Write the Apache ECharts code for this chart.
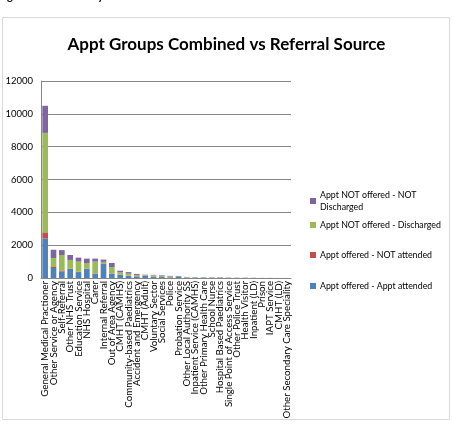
<!DOCTYPE html>
<html>
<head>
<meta charset="utf-8">
<style>
  html, body { margin: 0; padding: 0; background: #fff; }
  #chart { width: 453px; height: 424px; }
</style>
<script src="https://cdn.jsdelivr.net/npm/echarts@6/dist/echarts.min.js"></script>
</head>
<body>
<div id="chart"></div>
<script>
  // referral sources, largest first
  var categories = [
    'General Medical Practioner', 'Other Service or Agency', 'Self-Referral', 'Other NHS Trust',
    'Education Service', 'NHS Hospital', 'Carer', 'Internal Referral', 'Out of Area Agency',
    'CMHT (CAMHS)', 'Community-based Paediatrics', 'Accident and Emergency', 'CMHT (Adult)',
    'Voluntary Sector', 'Social Services', 'Police', 'Probation Service', 'Other Local Authority SS',
    'Inpatient Service (CAMHS)', 'Other Primary Health Care', 'School Nurse',
    'Hospital Based Paediatrics', 'Single Point of Access Service', 'Other Police Trust',
    'Health Visitor', 'Inpatient (LD)', 'Prison', 'IAPT Service', 'CMHT (LD)',
    'Other Secondary Care Speciality'
  ];
  var attended     = [2400, 610, 400, 550, 360, 550, 245, 880, 260, 200, 120, 90, 150, 80, 60, 40, 100, 25, 20, 20, 20, 20, 10, 8, 8, 5, 4, 4, 2, 2];
  var notAttended  = [380, 60, 60, 30, 20, 20, 30, 20, 20, 15, 20, 15, 5, 10, 10, 5, 5, 5, 5, 5, 5, 5, 3, 2, 2, 2, 1, 1, 1, 1];
  var discharged   = [6060, 550, 940, 520, 620, 345, 725, 80, 390, 130, 130, 70, 25, 70, 80, 60, 10, 25, 25, 20, 15, 20, 12, 8, 8, 6, 4, 4, 2, 2];
  var notDischarged = [1650, 500, 300, 300, 240, 265, 180, 140, 245, 100, 90, 65, 20, 30, 30, 25, 10, 10, 10, 8, 5, 8, 5, 3, 3, 2, 2, 1, 1, 1];
  var yTicks = [0, 2000, 4000, 6000, 8000, 10000, 12000];

  var seriesNames = ['Appt offered - Appt attended', 'Appt offered - NOT attended',
                     'Appt NOT offered - Discharged', 'Appt NOT offered - NOT\nDischarged'];

  var font = 'Lato, "Open Sans", sans-serif';
  var chart = echarts.init(document.getElementById('chart'));

  function bar(name, data, color) {
    return {
      name: name,
      type: 'bar',
      stack: 'all',
      barWidth: '68%',
      itemStyle: { color: color },
      data: data
    };
  }

  // one legend per entry so the uneven Excel spacing can be kept
  function legendAt(name, top) {
    return {
      orient: 'vertical',
      left: 305,
      top: top,
      itemWidth: 6,
      itemHeight: 6,
      icon: 'rect',
      textStyle: { fontFamily: font, fontSize: 8.8, color: '#000', lineHeight: 12, padding: [0, 0, 0, -1] },
      data: [name]
    };
  }

  var option = {
    backgroundColor: '#fff',
    animation: false,
    title: {
      text: 'Appt Groups Combined vs Referral Source',
      left: 'center',
      top: 31,
      textStyle: { fontFamily: font, fontWeight: 'bold', fontSize: 17, color: '#000' }
    },
    graphic: [
      {
        type: 'text', left: -2, top: -9,
        style: { text: 'Figure 3: Outcome by referral source', font: 'bold 11px ' + font, fill: '#000' }
      },
      {
        type: 'rect', shape: { x: 2.5, y: 17.5, width: 447, height: 402 },
        style: { fill: 'none', stroke: '#d9d9d9', lineWidth: 1 }
      }
    ],
    legend: [
      legendAt(seriesNames[3], 184),
      legendAt(seriesNames[2], 214),
      legendAt(seriesNames[1], 244),
      legendAt(seriesNames[0], 275)
    ],
    grid: { left: 41, top: 81, right: 162, bottom: 146 },
    xAxis: {
      type: 'category',
      data: categories,
      axisLine: { lineStyle: { color: '#868686' } },
      axisTick: { show: false },
      axisLabel: { interval: 0, rotate: 90, fontFamily: font, fontSize: 9.7, color: '#000', margin: 3 }
    },
    yAxis: {
      type: 'value',
      min: yTicks[0],
      max: yTicks[yTicks.length - 1],
      interval: 2000,
      axisLine: { show: true, lineStyle: { color: '#868686' } },
      axisTick: { show: false },
      axisLabel: { fontFamily: font, fontSize: 9.5, color: '#000', margin: 8, formatter: function (v) { return String(v); } },
      splitLine: { lineStyle: { color: '#868686' } }
    },
    series: [
      bar(seriesNames[0], attended, '#4F81BD'),
      bar(seriesNames[1], notAttended, '#C0504D'),
      bar(seriesNames[2], discharged, '#9BBB59'),
      bar(seriesNames[3], notDischarged, '#8064A2')
    ]
  };
  chart.setOption(option);
</script>
</body>
</html>
